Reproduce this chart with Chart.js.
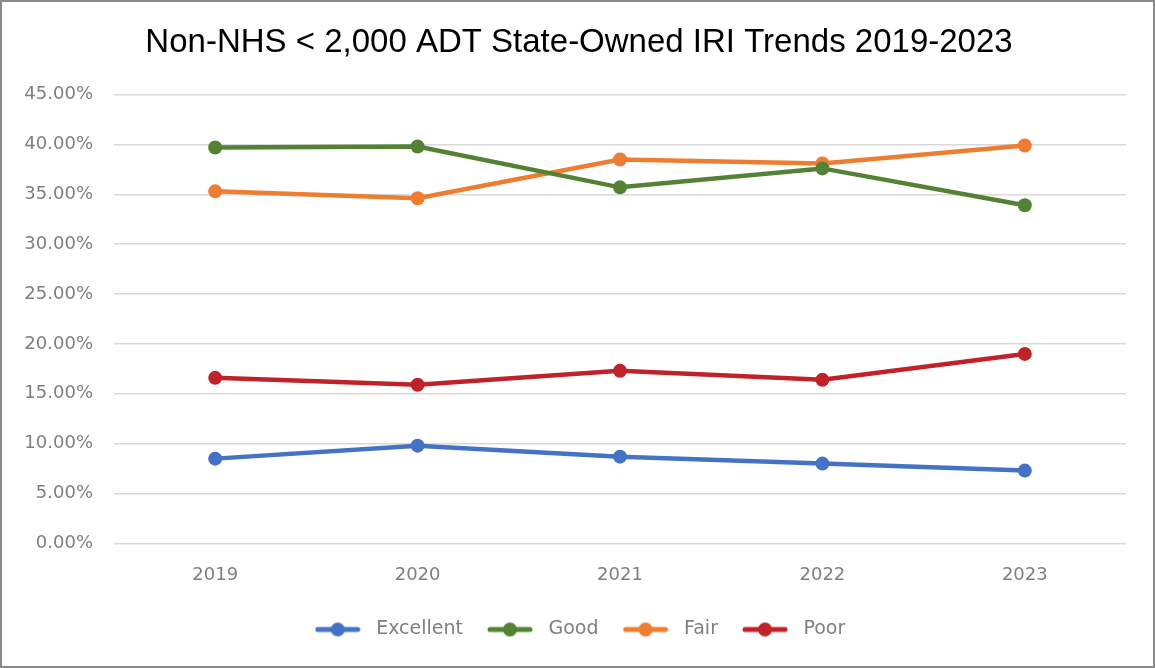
<!DOCTYPE html>
<html>
<head>
<meta charset="utf-8">
<script src="https://cdn.jsdelivr.net/npm/chart.js@4.4.0/dist/chart.umd.min.js"></script>
<style>
  html, body { margin: 0; padding: 0; background: #fff; }
  #wrap { position: relative; width: 1155px; height: 668px; }
  #frame {
    position: absolute; left: 0; top: 0; width: 1155px; height: 668px;
    box-sizing: border-box; border: 2px solid #8a8a8a; pointer-events: none;
  }
</style>
</head>
<body>
<div id="wrap">
  <canvas id="chart" width="1155" height="668"></canvas>
  <div id="frame"></div>
</div>
<script>
// Data (percent of lane miles)
const years = ["2019", "2020", "2021", "2022", "2023"];
const excellent = [8.5, 9.8, 8.7, 8.0, 7.3];
const good = [39.7, 39.8, 35.7, 37.6, 33.9];
const fair = [35.3, 34.6, 38.5, 38.1, 39.9];
const poor = [16.6, 15.9, 17.3, 16.4, 19.0];

const TITLE_FONT = "'Liberation Sans', Arial, sans-serif";
const FONT = "'DejaVu Sans', sans-serif";
const TICK_COLOR = "#7f7f7f";
const GRID_COLOR = "#d9d9d9";

// Legend marker: short line with a dot in the middle, like Excel
// (extra transparent room on the right gives the gap before the text)
function legendMarker(color) {
  const c = document.createElement("canvas");
  c.width = 52;
  c.height = 16;
  const g = c.getContext("2d");
  g.strokeStyle = color;
  g.lineWidth = 5;
  g.lineCap = "round";
  g.beginPath();
  g.moveTo(3, 8);
  g.lineTo(43, 8);
  g.stroke();
  g.fillStyle = color;
  g.beginPath();
  g.arc(23, 8, 7, 0, Math.PI * 2);
  g.fill();
  return c;
}

function series(label, data, color) {
  return {
    label: label,
    data: data,
    borderColor: color,
    backgroundColor: color,
    borderWidth: 4.5,
    pointRadius: 7,
    pointHoverRadius: 7,
    pointBorderWidth: 0,
    tension: 0,
    fill: false,
    markerImg: legendMarker(color),
  };
}

// Excel centres title and legend on the whole frame, not the plot box
const recentre = {
  id: "recentre",
  afterLayout(chart) {
    if (chart.titleBlock) chart.titleBlock.left += 32;
    if (chart.legend) chart.legend.left += 34;
  },
};

const ctx = document.getElementById("chart").getContext("2d");

new Chart(ctx, {
  type: "line",
  data: {
    labels: years,
    datasets: [
      series("Excellent", excellent, "#4472C4"),
      series("Good", good, "#548235"),
      series("Fair", fair, "#ED7D31"),
      series("Poor", poor, "#C0222A"),
    ],
  },
  plugins: [recentre],
  options: {
    responsive: false,
    animation: false,
    layout: {
      padding: { left: 0, right: 29, top: 19, bottom: 19 },
    },
    plugins: {
      title: {
        display: true,
        text: "Non-NHS < 2,000 ADT State-Owned IRI Trends 2019-2023",
        color: "#000",
        font: { family: TITLE_FONT, size: 33, weight: "normal" },
        padding: { top: 4, bottom: 32 },
      },
      legend: {
        position: "bottom",
        labels: {
          color: TICK_COLOR,
          font: { family: FONT, size: 19 },
          usePointStyle: true,
          pointStyleWidth: 52,
          padding: 24,
          generateLabels: (chart) =>
            chart.data.datasets.map((ds, i) => ({
              text: ds.label,
              pointStyle: ds.markerImg,
              fontColor: TICK_COLOR,
              strokeStyle: ds.borderColor,
              fillStyle: ds.backgroundColor,
              lineWidth: 0,
              datasetIndex: i,
              hidden: false,
            })),
        },
      },
      tooltip: { enabled: false },
    },
    scales: {
      x: {
        offset: true,
        grid: { display: false },
        border: { display: false },
        ticks: {
          color: TICK_COLOR,
          font: { family: FONT, size: 18 },
          padding: 13,
        },
        afterFit: (scale) => {
          scale.height = scale.height - 3;
        },
      },
      y: {
        min: 0,
        max: 45,
        grid: { color: GRID_COLOR, lineWidth: 1.5, drawTicks: false },
        border: { display: false },
        ticks: {
          stepSize: 5,
          color: TICK_COLOR,
          font: { family: FONT, size: 18 },
          padding: 21,
          callback: (v) => v.toFixed(2) + "%",
        },
        afterFit: (scale) => {
          scale.width = 114;
        },
      },
    },
  },
});
</script>
</body>
</html>
